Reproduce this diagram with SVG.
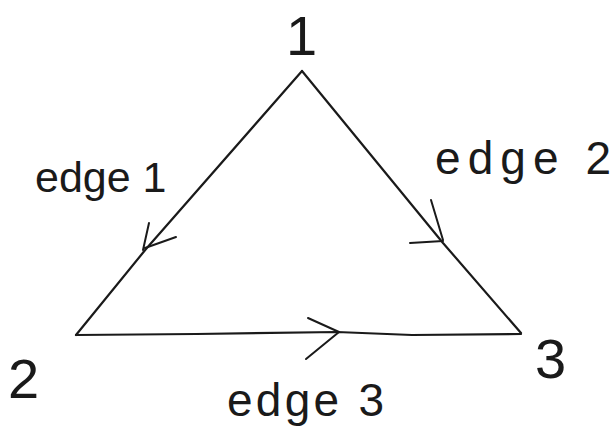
<svg xmlns="http://www.w3.org/2000/svg" width="615" height="445" viewBox="0 0 615 445">
<style>
.edge{fill:none;stroke:#1a1a1a;stroke-width:2.2;stroke-linecap:round;stroke-linejoin:round}
.arrow{fill:none;stroke:#1a1a1a;stroke-width:2;stroke-linecap:round;stroke-linejoin:round}
.lbl{font-family:"Liberation Sans",Arial,sans-serif;font-size:46px;fill:#1a1a1a}
.num{font-family:"Liberation Sans",Arial,sans-serif;font-size:56px;fill:#1a1a1a}
</style>
<rect width="615" height="445" fill="#ffffff"/>
<g id="connectors">
  <g id="edge1">
    <path class="edge" d="M302,71 L146,249 L76,335"/>
    <path class="arrow" d="M149,223 L143,250 M176,237 L145,248"/>
    <text class="lbl" x="35" y="192" style="font-size:43px">edge 1</text>
  </g>
  <g id="edge2">
    <path class="edge" d="M302,71 L443,243 L521,333"/>
    <path class="arrow" d="M431,200 L443,240 M410,243 L443,241"/>
    <text class="lbl" x="435" y="174" textLength="176" lengthAdjust="spacing">edge 2</text>
  </g>
  <g id="edge3">
    <path class="edge" d="M76,335 L196,334 L337,332 L412,335 L521,334"/>
    <path class="arrow" d="M308,318 L339,332 L306,359"/>
    <text class="lbl" x="227" y="416" textLength="157" lengthAdjust="spacing">edge 3</text>
  </g>
</g>
<g id="node1"><text class="num" x="286" y="55">1</text></g>
<g id="node2"><text class="num" x="8" y="398">2</text></g>
<g id="node3"><text class="num" x="535" y="378">3</text></g>
</svg>
